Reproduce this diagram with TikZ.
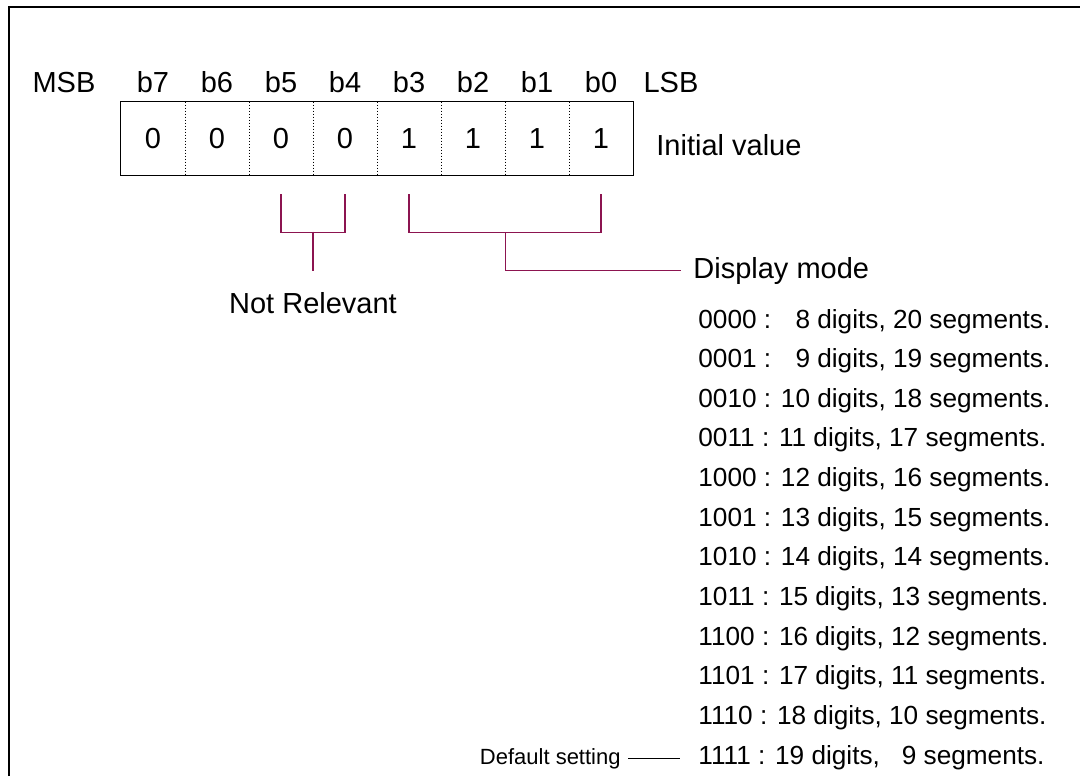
\documentclass[tikz,border=0pt]{standalone}
\usepackage{fontspec}
\setmainfont{Liberation Sans}
\usepackage{tikz}
\usetikzlibrary{positioning}
\definecolor{bitred}{RGB}{140,20,80}

\begin{document}
\begin{tikzpicture}[x=0.5pt, y=-0.5pt,
    bigtxt/.style={inner sep=0pt, font=\fontsize{14.5}{17}\selectfont},
    cell/.style={bigtxt, minimum width=32pt, minimum height=36.5pt},
    item/.style={inner sep=0pt, anchor=base west, font=\fontsize{13.1}{15.6}\selectfont},
    bracket/.style={draw=bitred, line width=0.9pt}]
            \useasboundingbox (0,0) rectangle (1080,776);

            % Frame
            \draw[line width=1.2pt] (9,776) -- (9,7) -- (1080,7);

            % Bit labels
            \node (msb) [bigtxt, anchor=base] at (64,92) {MSB};
            \node (lb7) [bigtxt, anchor=base] at (153,92) {b7};
            \node (lb6) [bigtxt, anchor=base] at (217,92) {b6};
            \node (lb5) [bigtxt, anchor=base] at (281,92) {b5};
            \node (lb4) [bigtxt, anchor=base] at (345,92) {b4};
            \node (lb3) [bigtxt, anchor=base] at (409,92) {b3};
            \node (lb2) [bigtxt, anchor=base] at (473,92) {b2};
            \node (lb1) [bigtxt, anchor=base] at (537,92) {b1};
            \node (lb0) [bigtxt, anchor=base] at (601,92) {b0};
            \node (lsb) [bigtxt, anchor=base] at (671,92) {LSB};

            % Register cells
            \node (c7) [cell] at (153,138.5) {0};
            \node (c6) [cell] at (217,138.5) {0};
            \node (c5) [cell] at (281,138.5) {0};
            \node (c4) [cell] at (345,138.5) {0};
            \node (c3) [cell] at (409,138.5) {1};
            \node (c2) [cell] at (473,138.5) {1};
            \node (c1) [cell] at (537,138.5) {1};
            \node (c0) [cell] at (601,138.5) {1};
            \draw[line width=0.75pt] (c7.north west) rectangle (c0.south east);
            \draw[densely dotted, line width=0.5pt] (c7.north east) -- (c7.south east);
            \draw[densely dotted, line width=0.5pt] (c6.north east) -- (c6.south east);
            \draw[densely dotted, line width=0.5pt] (c5.north east) -- (c5.south east);
            \draw[densely dotted, line width=0.5pt] (c4.north east) -- (c4.south east);
            \draw[densely dotted, line width=0.5pt] (c3.north east) -- (c3.south east);
            \draw[densely dotted, line width=0.5pt] (c2.north east) -- (c2.south east);
            \draw[densely dotted, line width=0.5pt] (c1.north east) -- (c1.south east);
            \node (init) [bigtxt, anchor=base west] at (656,155) {Initial value};

            % Not relevant bits
            \node (notrel) [bigtxt, anchor=base] at (313,313) {Not Relevant};
            \draw[bracket] ([yshift=-9.5pt]c5.south) -- ([yshift=-28.5pt]c5.south) -- ([yshift=-28.5pt]c4.south) -- ([yshift=-9.5pt]c4.south);
            \draw[bracket] ([yshift=30pt]notrel.north) -- ([yshift=10.5pt]notrel.north);

            % Display mode bits
            \node (mode) [bigtxt, anchor=base west] at (693,278) {Display mode};
            \draw[bracket] ([yshift=-9.5pt]c3.south) -- ([yshift=-28.5pt]c3.south) -- ([yshift=-28.5pt]c0.south) -- ([yshift=-9.5pt]c0.south);
            \draw[bracket] ([yshift=-28.5pt]c2.south east) |- ([xshift=-6pt]mode.west);

            % Mode list
            \node (m0)  [item] at (698,328) {0000 : \phantom{1}8 digits, 20 segments.};
            \node (m1)  [item] at (698,367.6) {0001 : \phantom{1}9 digits, 19 segments.};
            \node (m2)  [item] at (698,407.3) {0010 : 10 digits, 18 segments.};
            \node (m3)  [item] at (698,446.9) {0011 : 11 digits, 17 segments.};
            \node (m4)  [item] at (698,486.5) {1000 : 12 digits, 16 segments.};
            \node (m5)  [item] at (698,526.2) {1001 : 13 digits, 15 segments.};
            \node (m6)  [item] at (698,565.8) {1010 : 14 digits, 14 segments.};
            \node (m7)  [item] at (698,605.5) {1011 : 15 digits, 13 segments.};
            \node (m8)  [item] at (698,645.1) {1100 : 16 digits, 12 segments.};
            \node (m9)  [item] at (698,684.7) {1101 : 17 digits, 11 segments.};
            \node (m10) [item] at (698,724.4) {1110 : 18 digits, 10 segments.};
            \node (m11) [item] at (698,764) {1111 : 19 digits, \phantom{1}9 segments.};

            % Default setting
            \node (dflt) [inner sep=0pt, anchor=base east, font=\fontsize{11}{13}\selectfont] at (621,764) {Default setting};
            \draw[line width=0.6pt] ([xshift=3.5pt]dflt.east) -- ([xshift=-9pt]dflt.east -| m11.west);

        \end{tikzpicture}
\end{document}
